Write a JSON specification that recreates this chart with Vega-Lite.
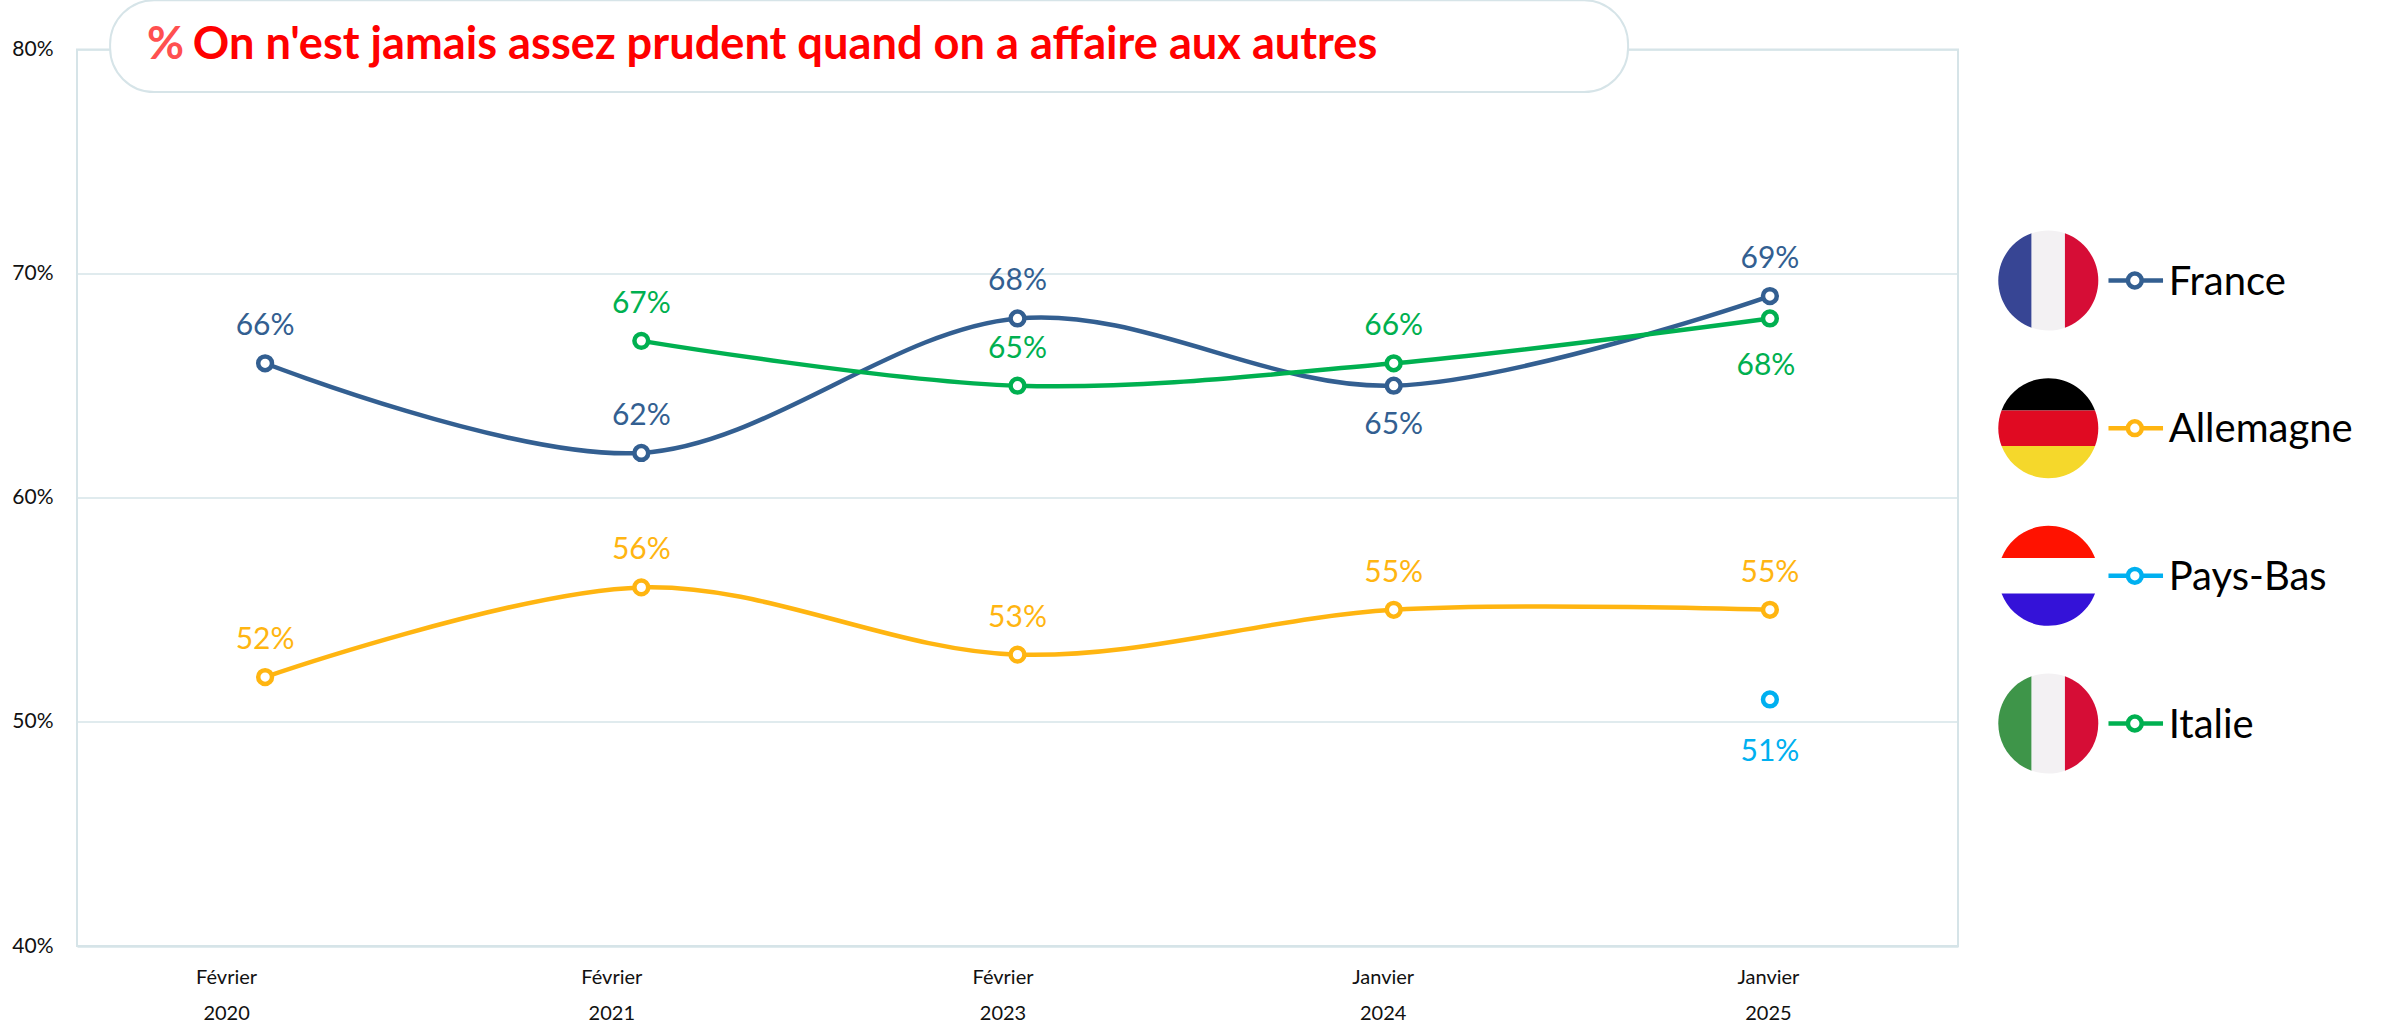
{
"$schema":"https://vega.github.io/schema/vega-lite/v6.json",
"width":1881,"height":896.5,
"autosize":{"type":"none"},
"padding":{"left":77,"top":49.5,"right":424,"bottom":81},
"background":"white",
"config":{"view":{"stroke":"#d6e4e8","strokeWidth":2},"font":"Lato"},
"datasets":{
"mesures":[
{"periode":"Février 2020","rang":1,"serie":"France","valeur":0.66},
{"periode":"Février 2021","rang":2,"serie":"France","valeur":0.62},
{"periode":"Février 2023","rang":3,"serie":"France","valeur":0.68},
{"periode":"Janvier 2024","rang":4,"serie":"France","valeur":0.65},
{"periode":"Janvier 2025","rang":5,"serie":"France","valeur":0.69},
{"periode":"Février 2020","rang":1,"serie":"Allemagne","valeur":0.52},
{"periode":"Février 2021","rang":2,"serie":"Allemagne","valeur":0.56},
{"periode":"Février 2023","rang":3,"serie":"Allemagne","valeur":0.53},
{"periode":"Janvier 2024","rang":4,"serie":"Allemagne","valeur":0.55},
{"periode":"Janvier 2025","rang":5,"serie":"Allemagne","valeur":0.55},
{"periode":"Janvier 2025","rang":5,"serie":"Pays-Bas","valeur":0.51},
{"periode":"Février 2021","rang":2,"serie":"Italie","valeur":0.67},
{"periode":"Février 2023","rang":3,"serie":"Italie","valeur":0.65},
{"periode":"Janvier 2024","rang":4,"serie":"Italie","valeur":0.66},
{"periode":"Janvier 2025","rang":5,"serie":"Italie","valeur":0.68}
],
"series":[{"serie":"France"},{"serie":"Allemagne"},{"serie":"Pays-Bas"},{"serie":"Italie"}],
"drapeaux":[
{"serie":"France","bande":"gauche","teinte":"France 1"},
{"serie":"France","bande":"centre","teinte":"France 2"},
{"serie":"France","bande":"droite","teinte":"France 3"},
{"serie":"Allemagne","bande":"haut","teinte":"Allemagne 1"},
{"serie":"Allemagne","bande":"milieu","teinte":"Allemagne 2"},
{"serie":"Allemagne","bande":"bas","teinte":"Allemagne 3"},
{"serie":"Pays-Bas","bande":"haut","teinte":"Pays-Bas 1"},
{"serie":"Pays-Bas","bande":"milieu","teinte":"Pays-Bas 2"},
{"serie":"Pays-Bas","bande":"bas","teinte":"Pays-Bas 3"},
{"serie":"Italie","bande":"gauche","teinte":"Italie 1"},
{"serie":"Italie","bande":"centre","teinte":"Italie 2"},
{"serie":"Italie","bande":"droite","teinte":"Italie 3"}
]
},
"resolve":{"scale":{"y":"independent"}},
"layer":[
{
"data":{"name":"mesures"},
"layer":[
{"mark":{"type":"line","interpolate":"cardinal","tension":0,"strokeWidth":4.5},
 "encoding":{
  "x":{"field":"rang","type":"quantitative","title":null,"scale":{"domain":[0.5,5.5],"nice":false,"zero":false},
   "axis":{"values":[1,2,3,4,5],"grid":false,"domain":false,"ticks":false,"labelFontSize":20,"labelColor":"#111111","labelPadding":21,"labelLineHeight":36,"labelBaseline":"top",
    "labelExpr":"{1:['Février','2020'],2:['Février','2021'],3:['Février','2023'],4:['Janvier','2024'],5:['Janvier','2025']}[datum.value]",
    "labelOffset":{"condition":[{"test":"datum.value==1","value":-39},{"test":"datum.value==2","value":-30},{"test":"datum.value==3","value":-15},{"test":"datum.value==4","value":-11}],"value":-2}}},
  "y":{"field":"valeur","type":"quantitative","title":null,"scale":{"domain":[0.4,0.8],"nice":false,"zero":false},
   "axis":{"values":[0.4,0.5,0.6,0.7,0.8],"format":".0%","grid":true,"gridColor":"#d6e4e8","gridWidth":1.5,"domain":false,"ticks":false,"labelFontSize":21,"labelColor":"#111111","labelPadding":24}},
  "color":{"field":"serie","type":"nominal","legend":null,"scale":{"domain":["France","Allemagne","Pays-Bas","Italie"],"range":["#335f91","#ffb511","#00b0f0","#00b050"]}}
 }},
{"mark":{"type":"point","filled":true,"fill":"white","size":190,"strokeWidth":4.5,"opacity":1},
 "encoding":{
  "x":{"field":"rang","type":"quantitative"},
  "y":{"field":"valeur","type":"quantitative"},
  "stroke":{"field":"serie","type":"nominal","legend":null,"scale":{"domain":["France","Allemagne","Pays-Bas","Italie"],"range":["#335f91","#ffb511","#00b0f0","#00b050"]}}
 }},
{"transform":[{"filter":"!((datum.serie=='France'&&datum.rang==4)||(datum.serie=='Italie'&&datum.rang==5)||datum.serie=='Pays-Bas')"}],
 "mark":{"type":"text","fontSize":30,"dy":-37,"baseline":"middle"},
 "encoding":{
  "x":{"field":"rang","type":"quantitative"},
  "y":{"field":"valeur","type":"quantitative"},
  "text":{"field":"valeur","type":"quantitative","format":".0%"},
  "color":{"field":"serie","type":"nominal","legend":null,"scale":{"domain":["France","Allemagne","Pays-Bas","Italie"],"range":["#335f91","#ffc000","#00b0f0","#00b050"]}}
 }},
{"transform":[{"filter":"datum.serie=='France'&&datum.rang==4"}],
 "mark":{"type":"text","fontSize":30,"dy":39,"baseline":"middle","color":"#335f91"},
 "encoding":{
  "x":{"field":"rang","type":"quantitative"},
  "y":{"field":"valeur","type":"quantitative"},
  "text":{"field":"valeur","type":"quantitative","format":".0%"}
 }},
{"transform":[{"filter":"datum.serie=='Italie'&&datum.rang==5"}],
 "mark":{"type":"text","fontSize":30,"dx":-4,"dy":48,"baseline":"middle","color":"#00b050"},
 "encoding":{
  "x":{"field":"rang","type":"quantitative"},
  "y":{"field":"valeur","type":"quantitative"},
  "text":{"field":"valeur","type":"quantitative","format":".0%"}
 }},
{"transform":[{"filter":"datum.serie=='Pays-Bas'"}],
 "mark":{"type":"text","fontSize":30,"dy":53,"baseline":"middle","color":"#00b0f0"},
 "encoding":{
  "x":{"field":"rang","type":"quantitative"},
  "y":{"field":"valeur","type":"quantitative"},
  "text":{"field":"valeur","type":"quantitative","format":".0%"}
 }},
{"data":{"values":[{"libelle":"titre"}]},
 "mark":{"type":"rect","fill":"white","stroke":"#d6e4e8","strokeWidth":2,"cornerRadius":44},
 "encoding":{"x":{"datum":0.588,"type":"quantitative"},"x2":{"datum":4.623},"y":{"datum":0.822,"type":"quantitative"},"y2":{"datum":0.781}}},
{"data":{"values":[{"t":"%"}]},
 "mark":{"type":"text","fontSize":45.2,"fontWeight":"bold","align":"left","baseline":"middle","color":"#ff5050"},
 "encoding":{"x":{"datum":0.686,"type":"quantitative"},"y":{"datum":0.802,"type":"quantitative"},"text":{"field":"t"}}},
{"data":{"values":[{"t":"On n'est jamais assez prudent quand on a affaire aux autres"}]},
 "mark":{"type":"text","fontSize":45.2,"fontWeight":"bold","align":"left","baseline":"middle","color":"#ff0000"},
 "encoding":{"x":{"datum":0.808,"type":"quantitative"},"y":{"datum":0.802,"type":"quantitative"},"text":{"field":"t"}}}
]
},
{
"layer":[
{"data":{"name":"drapeaux"},
 "mark":{"type":"point","filled":true,"size":10000,"opacity":1,"strokeWidth":0},
 "encoding":{
  "x":{"datum":5.74,"type":"quantitative"},
  "y":{"field":"serie","type":"ordinal","axis":null,"sort":null,"scale":{"type":"point","domain":["France","Allemagne","Pays-Bas","Italie"],"range":[231,674],"padding":0}},
  "shape":{"field":"bande","type":"nominal","legend":null,"scale":{"domain":["gauche","centre","droite","haut","milieu","bas"],"range":[
   "M-0.333,-0.943 A1,1 0 0 0 -0.333,0.943 Z",
   "M-0.333,-0.943 A1,1 0 0 1 0.333,-0.943 L0.333,0.943 A1,1 0 0 1 -0.333,0.943 Z",
   "M0.333,-0.943 A1,1 0 0 1 0.333,0.943 Z",
   "M-0.935,-0.355 A1,1 0 0 1 0.935,-0.355 Z",
   "M-0.935,0.355 A1,1 0 0 1 -0.935,-0.355 L0.935,-0.355 A1,1 0 0 1 0.935,0.355 Z",
   "M-0.935,0.355 A1,1 0 0 0 0.935,0.355 Z"]}},
  "fill":{"field":"teinte","type":"nominal","legend":null,"scale":{
   "domain":["France 1","France 2","France 3","Allemagne 1","Allemagne 2","Allemagne 3","Pays-Bas 1","Pays-Bas 2","Pays-Bas 3","Italie 1","Italie 2","Italie 3"],
   "range":["#374594","#f3f1f3","#d60d36","#000000","#e00a22","#f5d82b","#ff1200","#ffffff","#3412d8","#3e9549","#f3f1f3","#d60d36"]}}
 }},
{"data":{"name":"series"},
 "mark":{"type":"rule","strokeWidth":4.5},
 "encoding":{
  "x":{"datum":5.9,"type":"quantitative"},"x2":{"datum":6.045},
  "y":{"field":"serie","type":"ordinal","axis":null,"sort":null},
  "color":{"field":"serie","type":"nominal","legend":null}
 }},
{"data":{"name":"series"},
 "mark":{"type":"point","filled":true,"fill":"white","size":190,"strokeWidth":4.5,"opacity":1},
 "encoding":{
  "x":{"datum":5.97,"type":"quantitative"},
  "y":{"field":"serie","type":"ordinal","axis":null,"sort":null},
  "stroke":{"field":"serie","type":"nominal","legend":null}
 }},
{"data":{"name":"series"},
 "mark":{"type":"text","fontSize":40,"dy":2,"align":"left","baseline":"middle","color":"#000000"},
 "encoding":{
  "x":{"datum":6.06,"type":"quantitative"},
  "y":{"field":"serie","type":"ordinal","axis":null,"sort":null},
  "text":{"field":"serie"}
 }}
]
}
]
}
